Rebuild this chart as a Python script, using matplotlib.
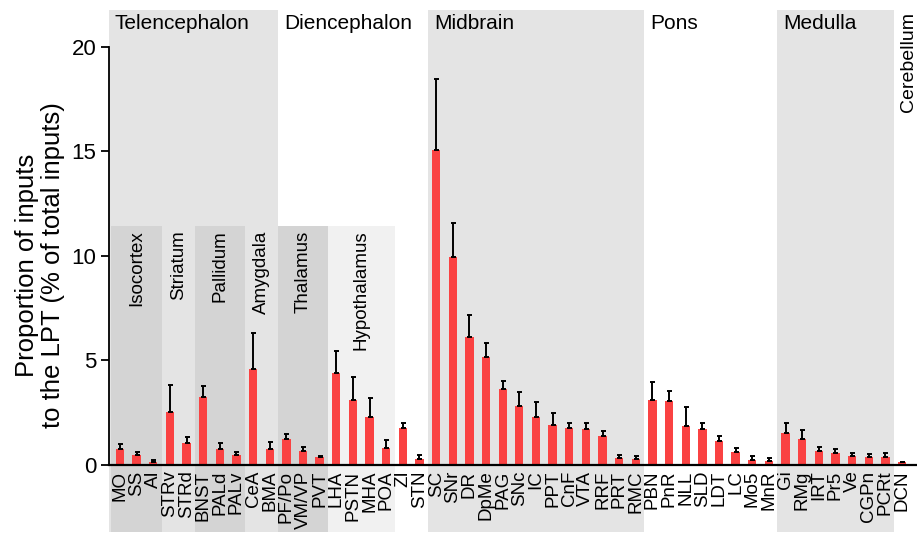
import numpy as np
import matplotlib.pyplot as plt
from matplotlib.patches import Rectangle

plt.rcParams['font.family'] = ['Liberation Sans', 'DejaVu Sans']

areas = ['MO', 'SS', 'AI', 'STRv', 'STRd', 'BNST', 'PALd', 'PALv', 'CeA', 'BMA',
         'PF/Po', 'VM/VP', 'PVT', 'LHA', 'PSTN', 'MHA', 'POA', 'ZI', 'STN',
         'SC', 'SNr', 'DR', 'DpMe', 'PAG', 'SNc', 'IC', 'PPT', 'CnF', 'VTA', 'RRF', 'PRT', 'RMC',
         'PBN', 'PnR', 'NLL', 'SLD', 'LDT', 'LC', 'Mo5', 'MnR',
         'Gi', 'RMg', 'IRT', 'Pr5', 'Ve', 'CGPn', 'PCRt',
         'DCN']
means = [0.75, 0.48, 0.14, 2.52, 1.03, 3.27, 0.76, 0.46, 4.60, 0.76,
         1.22, 0.68, 0.38, 4.41, 3.13, 2.30, 0.81, 1.75, 0.27,
         15.04, 9.95, 6.12, 5.17, 3.63, 2.82, 2.31, 1.91, 1.79, 1.74, 1.37, 0.34, 0.30,
         3.10, 3.07, 1.88, 1.74, 1.16, 0.64, 0.25, 0.21,
         1.55, 1.23, 0.68, 0.59, 0.45, 0.40, 0.36,
         0.16]
sem = [0.27, 0.12, 0.10, 1.29, 0.30, 0.49, 0.29, 0.18, 1.72, 0.32,
       0.26, 0.18, 0.07, 1.05, 1.09, 0.88, 0.38, 0.28, 0.19,
       3.42, 1.62, 1.06, 0.66, 0.39, 0.69, 0.70, 0.58, 0.20, 0.25, 0.26, 0.13, 0.14,
       0.89, 0.49, 0.87, 0.25, 0.24, 0.16, 0.17, 0.13,
       0.44, 0.45, 0.18, 0.18, 0.13, 0.13, 0.20,
       0.0]

# major divisions: name, number of areas, shaded?
regions = ['Telencephalon', 'Diencephalon', 'Midbrain', 'Pons', 'Medulla', 'Cerebellum']
region_sizes = [10, 9, 13, 8, 7, 1]
region_shaded = [True, False, True, False, True, False]

# sub divisions: name, first area index, number of areas, shade
subregions = ['Isocortex', 'Striatum', 'Pallidum', 'Amygdala', 'Thalamus', 'Hypothalamus']
sub_start = [0, 3, 5, 8, 10, 13]
sub_sizes = [3, 2, 3, 2, 3, 4]
sub_colors = ['#d4d4d4', '#e4e4e4', '#d4d4d4', '#e4e4e4', '#d4d4d4', '#f1f1f1']

x = np.arange(len(areas))
xmin, xmax = -0.66, 47.9
ymax = 21.755
label_bottom = -0.147   # axes fraction, bottom of shading under the tick labels
sub_top = 11.42

fig = plt.figure(figsize=(9.17, 5.33), dpi=100)
ax = fig.add_axes([109 / 917, 68 / 533, 808 / 917, 455 / 533])
trans = ax.get_xaxis_transform()

start = 0
for name, n, shaded in zip(regions, region_sizes, region_shaded):
    left = start - 0.5 if start > 0 else xmin
    right = start + n - 0.5 if start + n < len(areas) else xmax
    if shaded:
        ax.add_patch(Rectangle((left, label_bottom), right - left, 1 - label_bottom,
                               transform=trans, facecolor='#e4e4e4', edgecolor='none',
                               clip_on=False, zorder=0.1))
    if name == 'Cerebellum':
        ax.text(left + 0.9, 0.995, name, transform=trans, rotation=90, ha='center', va='top',
                fontsize=14)
    else:
        ax.text(left + 0.36, 0.992, name, transform=trans, ha='left', va='top', fontsize=15)
    start += n

for name, s, n, c in zip(subregions, sub_start, sub_sizes, sub_colors):
    left = s - 0.5 if s > 0 else -0.54
    right = s + n - 0.5
    ax.add_patch(Rectangle((left, label_bottom), right - left, sub_top / ymax - label_bottom,
                           transform=trans, facecolor=c, edgecolor='none',
                           clip_on=False, zorder=0.2))
    ax.text((left + right) / 2, sub_top - 0.2, name, rotation=90, ha='center', va='top',
            fontsize=13.5)

ax.bar(x, means, width=0.5, color='#fa4242', zorder=2)
ax.errorbar(x, means, yerr=[np.zeros(len(sem)), sem], fmt='none', ecolor='black',
            elinewidth=1.4, capsize=1.8, capthick=1.4, zorder=3)

ax.set_xlim(xmin, xmax)
ax.set_ylim(0, ymax)
ax.set_xticks(x)
ax.set_xticklabels(areas, rotation=90, fontsize=13.5)
ax.set_yticks([0, 5, 10, 15, 20])
ax.tick_params(axis='x', length=0, pad=4)
ax.tick_params(axis='y', length=6, width=1.3, labelsize=16, pad=3)
ax.set_facecolor('none')
for side in ['top', 'right']:
    ax.spines[side].set_visible(False)
ax.spines['left'].set_bounds(0, 20)
ax.spines['left'].set_linewidth(1.3)
ax.spines['bottom'].set_linewidth(1.6)
ax.spines['bottom'].set_zorder(4)

fig.text(40 / 917, 1 - 265 / 533, 'Proportion of inputs\nto the LPT (% of total inputs)',
         rotation=90, ha='center', va='center', multialignment='center',
         fontsize=18.5, linespacing=1.12)

fig.savefig('out.png', dpi=100)
